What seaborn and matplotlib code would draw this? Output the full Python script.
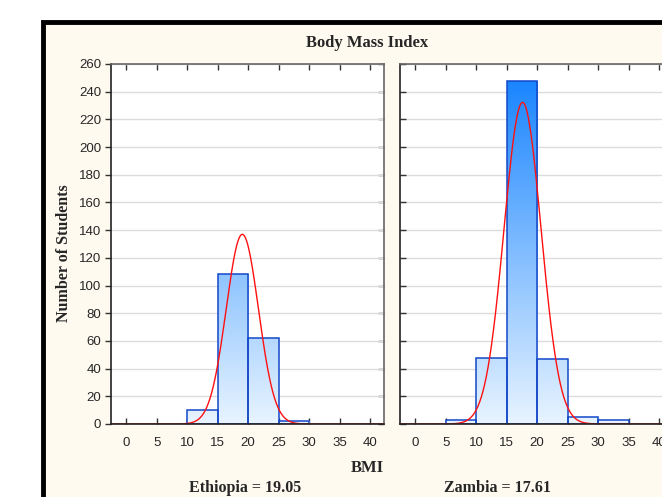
import numpy as np
import pandas as pd
import matplotlib
matplotlib.use("Agg")
import matplotlib.pyplot as plt
import seaborn as sns
from matplotlib.colors import LinearSegmentedColormap
from matplotlib.patches import Rectangle

# ---- data ----
bin_edges = [0, 5, 10, 15, 20, 25, 30, 35, 40]
ethiopia_counts = [0, 0, 10, 108, 62, 2, 0, 0]
zambia_counts = [0, 3, 48, 248, 47, 5, 3, 0]
ethiopia_mean, ethiopia_sd = 19.05, 2.65
zambia_mean, zambia_sd = 17.61, 3.04
x_ticks = [0, 5, 10, 15, 20, 25, 30, 35, 40]
y_ticks = list(range(0, 261, 20))
title = "Body Mass Index"
ylabel = "Number of Students"
xlabel = "BMI"
captions = ["Ethiopia = 19.05", "Zambia = 17.61"]

sns.set_style("white")
plt.rcParams['font.family'] = ['Liberation Sans', 'DejaVu Sans']

W, H = 662, 497
fig = plt.figure(figsize=(W / 100, H / 100), dpi=100)
fig.patch.set_facecolor("white")

def fx(px):
    return px / W

def fy(py):
    return 1 - py / H

# beige frame
frame = Rectangle((fx(43.5), fy(540)), fx(700), fy(21.5) - fy(540), transform=fig.transFigure,
                  facecolor="#fffaf0", edgecolor="black", linewidth=3.5, zorder=-10)
fig.patches.append(frame)

cmap = LinearSegmentedColormap.from_list("bmi", ["#e8f4ff", "#1080ff"])
serif = ['Liberation Serif', 'DejaVu Serif']

ax_w = fx(384) - fx(111)
ax_h = fy(64) - fy(424)
positions = [fx(111), fx(400)]
datasets = [(ethiopia_counts, ethiopia_mean, ethiopia_sd),
            (zambia_counts, zambia_mean, zambia_sd)]

centers = [(a + b) / 2 for a, b in zip(bin_edges[:-1], bin_edges[1:])]
xlim = (-2.5, 42.3)
ylim = (0, 260)

for i, (counts, mu, sd) in enumerate(datasets):
    ax = fig.add_axes([positions[i], fy(424), ax_w, ax_h])
    ax.set_facecolor("white")
    df = pd.DataFrame({"bmi": centers, "n": counts})
    sns.histplot(data=df, x="bmi", weights="n", bins=bin_edges, ax=ax,
                 stat="count", element="bars", fill=True,
                 facecolor="none", edgecolor="#1448c8", linewidth=1.1)
    grad = np.linspace(0, 1, 256).reshape(-1, 1)
    for p in list(ax.patches):
        if p.get_height() <= 0:
            p.set_visible(False)
            continue
        p.set_facecolor("none")
        p.set_zorder(3)
        im = ax.imshow(grad, extent=(xlim[0], xlim[1], 0, 260), origin="lower",
                       aspect="auto", cmap=cmap, zorder=2)
        im.set_clip_path(p)
    # fitted normal curve
    n_total = sum(counts)
    xs = np.linspace(-2.5, 42.5, 500)
    ys = n_total * 5 * np.exp(-0.5 * ((xs - mu) / sd) ** 2) / (sd * np.sqrt(2 * np.pi))
    sns.lineplot(x=xs, y=ys, ax=ax, color="#ff1010", linewidth=1.0, zorder=4)

    ax.set_xlim(*xlim)
    ax.set_ylim(*ylim)
    ax.set_xticks(x_ticks)
    ax.set_xticklabels([str(t) for t in x_ticks], fontsize=9.5)
    ax.set_yticks(y_ticks)
    ax.grid(axis="y", color="#dcdcdc", linewidth=1.0, zorder=0)
    ax.set_axisbelow(True)
    ax.set_xlabel("")
    ax.set_ylabel("")
    ax.tick_params(axis="x", direction="in", top=True, bottom=True, length=4,
                   width=1, color="#333333", pad=9)
    if i == 0:
        ax.set_yticklabels([str(t) for t in y_ticks], fontsize=9.5)
        ax.tick_params(axis="y", which="both", left=True, right=False, direction="out",
                       length=4, width=1, color="#333333", pad=3)
        ax2 = ax.secondary_yaxis("right")
        ax2.set_yticks(y_ticks)
        ax2.tick_params(direction="in", length=4, width=1, color="#333333", labelright=False)
        ax2.spines["right"].set_visible(False)
    else:
        ax.set_yticklabels([])
        ax.tick_params(axis="y", left=True, direction="in", length=4, width=1, color="#333333")
    for s in ["left", "bottom"]:
        ax.spines[s].set_color("#222222")
        ax.spines[s].set_linewidth(1.2)
    for s in ["top", "right"]:
        ax.spines[s].set_color("#666666")
        ax.spines[s].set_linewidth(1.2)
    for s in ax.spines.values():
        s.set_visible(True)
        s.set_zorder(5)

fig.text(fx(367), fy(43), title, ha="center", va="center", fontsize=12,
         fontweight="bold", family=serif)
fig.text(fx(64), fy(253), ylabel, ha="center", va="center", rotation=90, fontsize=11.5,
         fontweight="bold", family=serif)
fig.text(fx(367), fy(468), xlabel, ha="center", va="center", fontsize=12,
         fontweight="bold", family=serif)
fig.text(fx(245), fy(488), captions[0], ha="center", va="center", fontsize=11.5,
         fontweight="bold", family=serif)
fig.text(fx(498), fy(488), captions[1], ha="center", va="center", fontsize=11.5,
         fontweight="bold", family=serif)

fig.savefig("out.png", dpi=100)
